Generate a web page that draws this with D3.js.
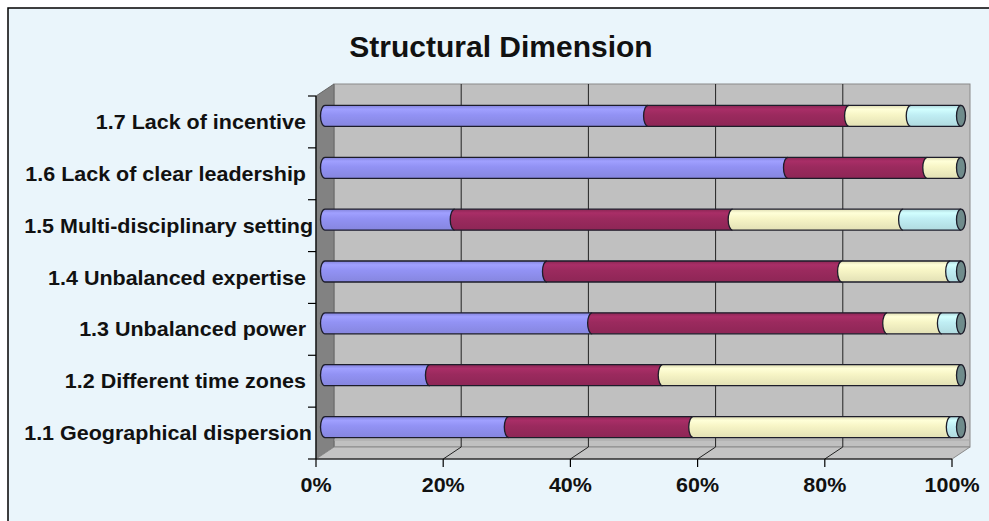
<!DOCTYPE html>
<html>
<head>
<meta charset="utf-8">
<title>Structural Dimension</title>
<script src="https://d3js.org/d3.v7.min.js"></script>
<style>
  body { margin: 0; background: #fff; font-family: "Liberation Sans", Arial, sans-serif; }
  .lbl { font-weight: bold; fill: #111; }
</style>
</head>
<body>
<div id="chart"></div>
<script>
// chart data (percent of answers per item)
var categories = ["1.1 Geographical dispersion", "1.2 Different time zones", "1.3 Unbalanced power",
                  "1.4 Unbalanced expertise", "1.5 Multi-disciplinary setting",
                  "1.6 Lack of clear leadership", "1.7 Lack of incentive"];
var series1 = [28.9, 16.5, 42.0, 34.9, 20.4, 72.8, 50.8];
var series2 = [29.0, 36.6, 46.4, 46.4, 43.7, 21.9, 31.6];
var series3 = [40.5, 46.9, 8.6, 17.0, 26.8, 5.3, 9.7];
var series4 = [1.6, 0, 3.0, 1.7, 9.1, 0, 7.9];
var xTicks = [0, 0.2, 0.4, 0.6, 0.8, 1];
var title = "Structural Dimension";

var width = 989, height = 521;
var keys = ["s1", "s2", "s3", "s4"];
var colors = {s1: "#9292f4", s2: "#9b2a5e", s3: "#f7f5c6", s4: "#c0eef4"};
var capColor = "#6f8b8b";

var rows = categories.map(function(c, i) {
  return {cat: c, s1: series1[i], s2: series2[i], s3: series3[i], s4: series4[i]};
});
var stacked = d3.stack().keys(keys).offset(d3.stackOffsetExpand)(rows);

// 3d depth offset (front -> back)
var dx = 18, dy = -12;

var x = d3.scaleLinear().domain([0, 1]).range([316, 952]);
var y = d3.scaleBand().domain(categories.slice().reverse()).range([96, 459]);
var barH = 21, rx = 4.5;
var sx = 1.075; // text is a bit stretched in the original

var svg = d3.select("#chart").append("svg")
  .attr("width", width).attr("height", height);

var defs = svg.append("defs");
keys.forEach(function(k) {
  var c = d3.color(colors[k]);
  var g = defs.append("linearGradient").attr("id", "g_" + k)
    .attr("x1", 0).attr("y1", 0).attr("x2", 0).attr("y2", 1);
  g.append("stop").attr("offset", "0%").attr("stop-color", c.darker(0.3));
  g.append("stop").attr("offset", "18%").attr("stop-color", c.brighter(0.25));
  g.append("stop").attr("offset", "45%").attr("stop-color", c);
  g.append("stop").attr("offset", "100%").attr("stop-color", c.darker(0.25));
});

// outer chart area
svg.append("rect").attr("x", 8).attr("y", 8).attr("width", width).attr("height", height)
  .attr("fill", "#eaf5fb").attr("stroke", "#000").attr("stroke-width", 1.5);

svg.append("text").attr("class", "lbl")
  .attr("transform", "translate(501,57)")
  .attr("text-anchor", "middle").style("font-size", "30px")
  .text(title);

var x0 = x(0), x1 = x(1), yTop = y.range()[0], yBot = y.range()[1];

// back wall
svg.append("rect").attr("x", x0 + dx).attr("y", yTop + dy)
  .attr("width", x1 - x0).attr("height", yBot - yTop)
  .attr("fill", "#c0c0c0").attr("stroke", "#8a8a8a");

// side wall
svg.append("path")
  .attr("d", "M" + x0 + "," + yTop + "L" + (x0 + dx) + "," + (yTop + dy) +
             "L" + (x0 + dx) + "," + (yBot + dy) + "L" + x0 + "," + yBot + "Z")
  .attr("fill", "#828282").attr("stroke", "#666");

// floor
svg.append("path")
  .attr("d", "M" + x0 + "," + yBot + "L" + (x0 + dx) + "," + (yBot + dy) +
             "L" + (x1 + dx) + "," + (yBot + dy) + "L" + x1 + "," + yBot + "Z")
  .attr("fill", "#c4c4c4").attr("stroke", "#8a8a8a");
svg.append("line")
  .attr("x1", x0 + dx).attr("x2", x1 + dx).attr("y1", yBot + dy - 7).attr("y2", yBot + dy - 7)
  .attr("stroke", "#a8a8a8");

// gridlines on wall and floor
var grid = svg.append("g");
xTicks.slice(1, -1).forEach(function(t) {
  grid.append("line").attr("x1", x(t) + dx).attr("x2", x(t) + dx)
    .attr("y1", yTop + dy).attr("y2", yBot + dy).attr("stroke", "#222");
  grid.append("line").attr("x1", x(t) + dx).attr("x2", x(t))
    .attr("y1", yBot + dy).attr("y2", yBot).attr("stroke", "#222");
});

// axes
var axes = svg.append("g").attr("stroke", "#000").attr("stroke-width", 1.2);
axes.append("line").attr("x1", x0).attr("x2", x0).attr("y1", yTop).attr("y2", yBot);
axes.append("line").attr("x1", x0).attr("x2", x1).attr("y1", yBot).attr("y2", yBot);
categories.forEach(function(c) {
  axes.append("line").attr("x1", x0 - 8).attr("x2", x0)
    .attr("y1", y(c)).attr("y2", y(c));
});
axes.append("line").attr("x1", x0 - 8).attr("x2", x0).attr("y1", yBot).attr("y2", yBot);
xTicks.forEach(function(t) {
  axes.append("line").attr("x1", x(t)).attr("x2", x(t)).attr("y1", yBot).attr("y2", yBot + 8);
});

// cylinder bars
var bars = svg.append("g");
function segPath(a, b, cy) {
  var t = cy - barH / 2, bt = cy + barH / 2;
  return "M" + b + "," + bt + "L" + a + "," + bt +
         "A" + rx + "," + (barH / 2) + " 0 0 1 " + a + "," + t + "L" + b + "," + t;
}
rows.forEach(function(r, i) {
  var cy = y(r.cat) + y.bandwidth() / 2 + dy / 2;
  stacked.forEach(function(s) {
    var d = s[i];
    if (d[1] - d[0] <= 0) return;
    bars.append("path")
      .attr("d", segPath(x(d[0]) + dx / 2, x(d[1]) + dx / 2, cy))
      .attr("fill", "url(#g_" + s.key + ")")
      .attr("stroke", "#1d1d2a").attr("stroke-width", 1.3);
  });
  bars.append("ellipse").attr("cx", x(1) + dx / 2).attr("cy", cy)
    .attr("rx", rx).attr("ry", barH / 2)
    .attr("fill", capColor).attr("stroke", "#1d1d2a").attr("stroke-width", 1.3);
});

// category labels
var labels = svg.append("g");
categories.forEach(function(c) {
  var t = labels.append("text").attr("class", "lbl").style("font-size", "20px")
    .attr("text-anchor", "end").text(c);
  var w = t.node().getComputedTextLength() * sx;
  var end = Math.max(306, 24 + w);
  t.attr("transform", "translate(" + end + "," + (y(c) + y.bandwidth() / 2 + 7) + ") scale(" + sx + ",1)");
});

// value labels
var fmt = d3.format(".0%");
xTicks.forEach(function(t) {
  svg.append("text").attr("class", "lbl").style("font-size", "20px")
    .attr("text-anchor", "middle")
    .attr("transform", "translate(" + x(t) + ",492) scale(" + sx + ",1)")
    .text(fmt(t));
});
</script>
</body>
</html>
